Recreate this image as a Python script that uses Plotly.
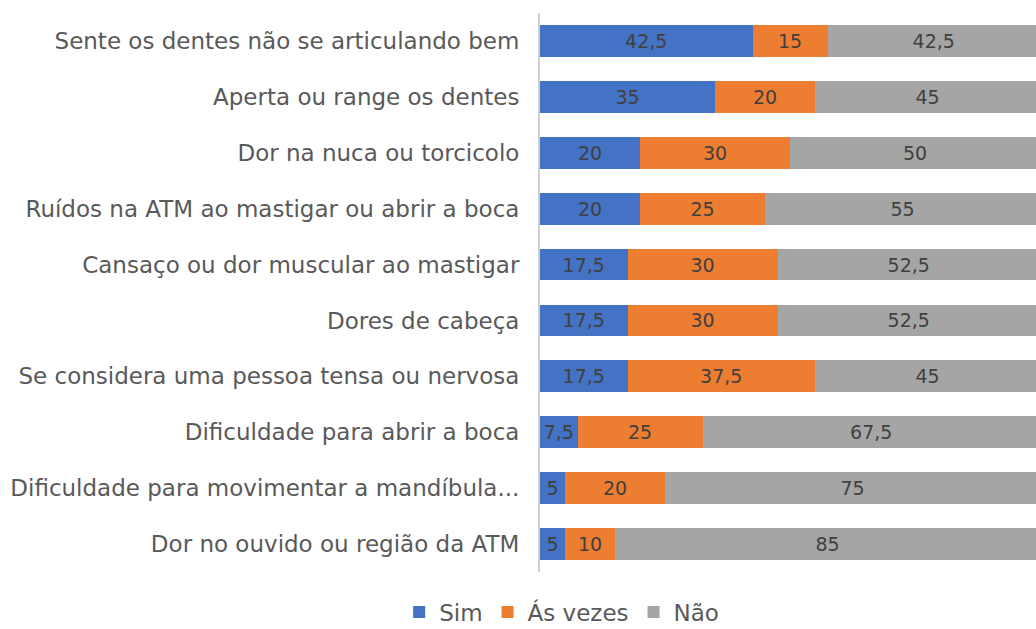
import plotly.graph_objects as go

categories = [
    "Sente os dentes não se articulando bem",
    "Aperta ou range os dentes",
    "Dor na nuca ou torcicolo",
    "Ruídos na ATM ao mastigar ou abrir a boca",
    "Cansaço ou dor muscular ao mastigar",
    "Dores de cabeça",
    "Se considera uma pessoa tensa ou nervosa",
    "Dificuldade para abrir a boca",
    "Dificuldade para movimentar a mandíbula...",
    "Dor no ouvido ou região da ATM",
]
sim = [42.5, 35, 20, 20, 17.5, 17.5, 17.5, 7.5, 5, 5]
as_vezes = [15, 20, 30, 25, 30, 30, 37.5, 25, 20, 10]
nao = [42.5, 45, 50, 55, 52.5, 52.5, 45, 67.5, 75, 85]

series = [("Sim", sim, "#4472C4"), ("Ás vezes", as_vezes, "#ED7D31"), ("Não", nao, "#A5A5A5")]

FONT = "DejaVu Sans"


def fmt(v):
    s = ("%g" % v)
    return s.replace(".", ",")


fig = go.Figure()
for name, vals, color in series:
    fig.add_trace(go.Bar(
        name=name, y=categories, x=vals, orientation="h",
        marker=dict(color=color, line=dict(width=0)),
        text=[fmt(v) for v in vals], textposition="inside",
        insidetextanchor="middle", textangle=0,
        textfont=dict(size=19, color="#404040", family=FONT),
        width=0.57,
    ))

fig.update_layout(
    barmode="stack",
    width=1036, height=629,
    margin=dict(l=540, r=0, t=13, b=57),
    paper_bgcolor="white", plot_bgcolor="white",
    font=dict(family=FONT, color="#595959"),
    uniformtext=dict(minsize=19, mode="show"),
    showlegend=True,
    legend=dict(orientation="h", x=-0.284, xanchor="left",
                yref="container", y=0.027, yanchor="middle",
                font=dict(size=23, color="#595959"), traceorder="normal",
                itemwidth=30, bgcolor="rgba(0,0,0,0)"),
    xaxis=dict(range=[0, 99.2], visible=False, showgrid=False, zeroline=False),
    yaxis=dict(categoryorder="array", categoryarray=categories[::-1],
               showline=True, linecolor="#D0D0D0", linewidth=2,
               ticks="", ticklabelstandoff=14,
               tickfont=dict(size=23, color="#595959"), showgrid=False),
)

fig.write_html("out.html", config={"displayModeBar": False},
               post_script="document.body.style.margin='0';document.body.style.overflow='hidden';")
